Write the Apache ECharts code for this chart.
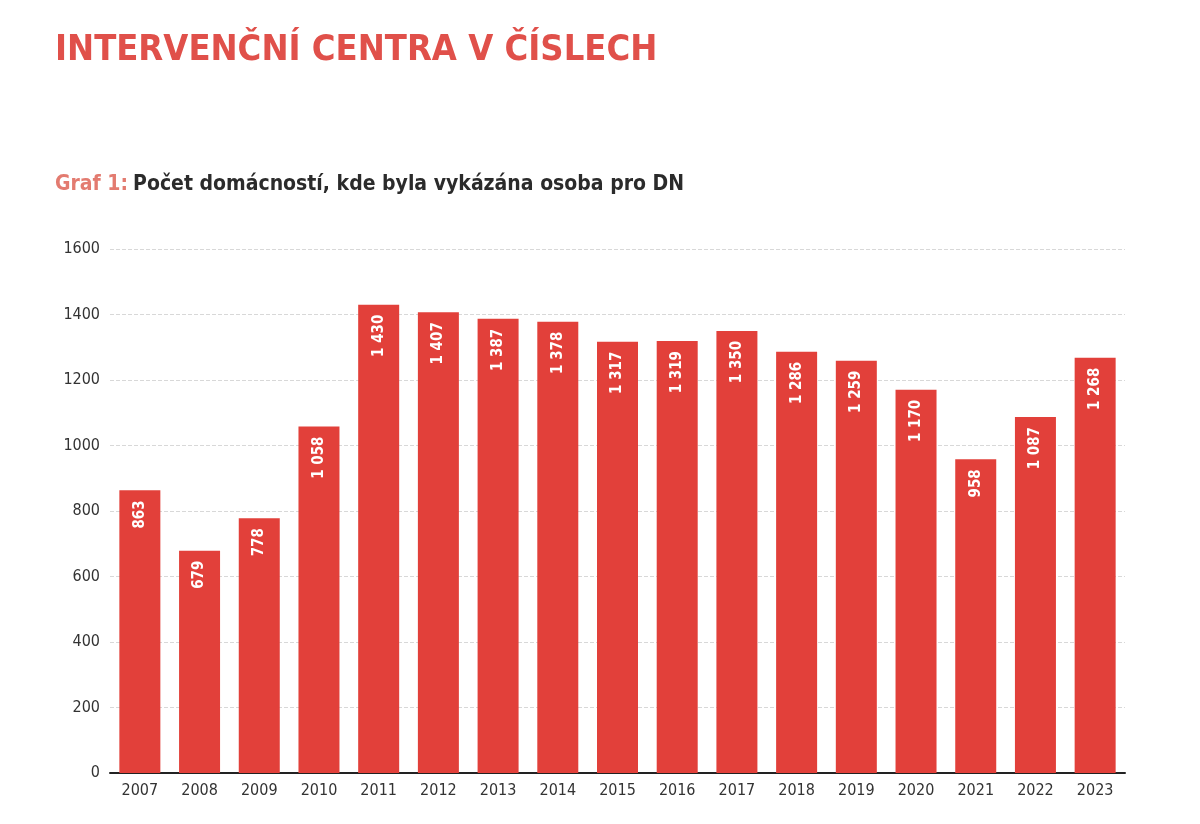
<!DOCTYPE html>
<html><head><meta charset="utf-8">
<script src="https://cdn.jsdelivr.net/npm/echarts@6/dist/echarts.min.js"></script>
<style>html,body{margin:0;padding:0;background:#fff}#c{width:1200px;height:824px}</style>
</head><body><div id="c"></div>
<script>
const years = ['2007','2008','2009','2010','2011','2012','2013','2014','2015','2016','2017','2018','2019','2020','2021','2022','2023'];
const households = [863,679,778,1058,1430,1407,1387,1378,1317,1319,1350,1286,1259,1170,958,1087,1268];
const titleText = 'INTERVENČNÍ CENTRA V ČÍSLECH';
const subtitlePrefix = 'Graf 1:';
const subtitleText = 'Počet domácností, kde byla vykázána osoba pro DN';
const FONT = '"Liberation Sans Narrow","DejaVu Sans Condensed","Roboto Condensed",sans-serif';
function fmt(v){return String(v).replace(/\B(?=(\d{3})+(?!\d))/g,' ');}
const chart = echarts.init(document.getElementById('c'));
chart.setOption({
  backgroundColor:'#fff',
  animation:false,
  title:[
    {text:titleText,left:50,top:28,textStyle:{fontFamily:FONT,fontSize:36,fontWeight:'bold',color:'#e0504a'}},
    {text:'{a|'+subtitlePrefix+'} {b|'+subtitleText+'}',left:50,top:169,
     textStyle:{rich:{a:{fontFamily:FONT,fontSize:21,fontWeight:'bold',color:'#e37b70'},b:{fontFamily:FONT,fontSize:21,fontWeight:'bold',color:'#2b2b2b'}}}}
  ],
  grid:{left:110,right:75,top:249,bottom:51,containLabel:false},
  xAxis:{type:'category',data:years,
    axisLine:{lineStyle:{color:'#222',width:2}},axisTick:{show:false},
    axisLabel:{fontFamily:FONT,fontSize:16,color:'#333',margin:10}},
  yAxis:{type:'value',min:0,max:1600,interval:200,
    axisLine:{show:false},axisTick:{show:false},
    axisLabel:{fontFamily:FONT,fontSize:16,color:'#333',margin:10,formatter:v=>String(v)},
    splitLine:{lineStyle:{color:'#d8d8d8',type:'dashed',width:1}}},
  series:[{type:'bar',data:households,barWidth:41,
    itemStyle:{color:'#e2403a'},
    label:{show:true,position:'insideTop',rotate:90,align:'right',verticalAlign:'middle',distance:10,
      formatter:p=>fmt(p.value),fontFamily:FONT,fontSize:15,fontWeight:'bold',color:'#fff'}}]
});
</script></body></html>
